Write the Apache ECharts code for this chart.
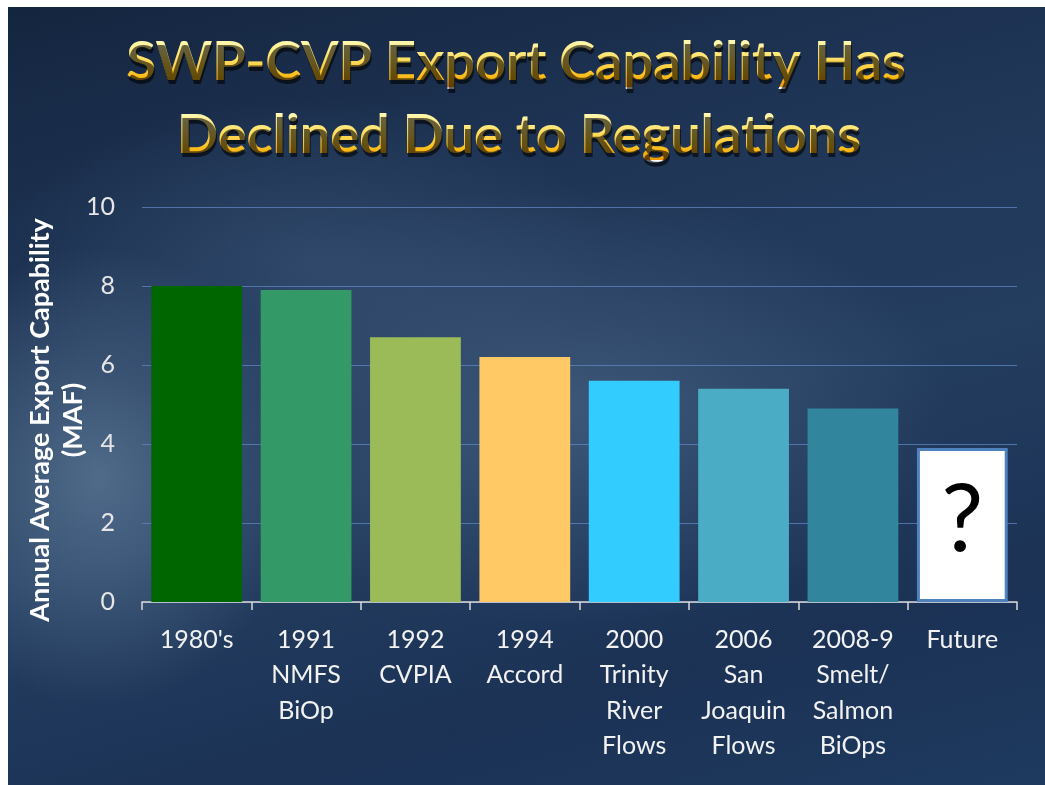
<!DOCTYPE html>
<html>
<head>
<meta charset="utf-8">
<script src="https://cdn.jsdelivr.net/npm/echarts@6/dist/echarts.min.js"></script>
<style>
  html, body { margin: 0; padding: 0; background: #fff; }
  #bg {
    position: absolute; left: 8px; top: 7px; width: 1037px; height: 778px;
    background:
      radial-gradient(ellipse 200px 230px at 90px 470px, rgba(110,138,168,0.6), rgba(110,138,168,0) 100%),
      radial-gradient(ellipse 380px 220px at 560px 400px, rgba(85,112,145,0.5), rgba(85,112,145,0) 100%),
      radial-gradient(ellipse 300px 160px at 300px 250px, rgba(70,98,132,0.4), rgba(70,98,132,0) 100%),
      linear-gradient(165deg, #14253f 0%, #1f3556 30%, #243e60 55%, #1b3255 80%, #1e3a5f 100%);
  }
  #chart { position: absolute; left: 0; top: 0; width: 1045px; height: 785px; }
</style>
</head>
<body>
<div id="bg"></div>
<div id="chart"></div>
<script>
var titleLines = ['SWP-CVP Export Capability Has', 'Declined Due to Regulations'];
var categories = ["1980's", '1991\nNMFS\nBiOp', '1992\nCVPIA', '1994\nAccord',
    '2000\nTrinity\nRiver\nFlows', '2006\nSan\nJoaquin\nFlows', '2008-9\nSmelt/\nSalmon\nBiOps', 'Future'];
var values = [8.0, 7.9, 6.7, 6.2, 5.6, 5.4, 4.9, 3.9];
var yMin = 0, yMax = 10, yStep = 2;
var yName = 'Annual Average Export Capability\n(MAF)';
var futureMark = '?';

var barColors = ['#006600', '#339966', '#9bbb59', '#ffc966', '#33ccff', '#4bacc6', '#31859c', '#ffffff'];

var chart = echarts.init(document.getElementById('chart'));

// title: white text, then gold gradient painted on top of it only, then shadow behind
var titleFont = 'bold 54px Lato';
var titleRows = [{x: 516, y: 63}, {x: 519, y: 136}];

function goldGradient() {
    return new echarts.graphic.LinearGradient(0, 0, 0, 1, [
        {offset: 0, color: '#fffbb8'},
        {offset: 0.4, color: '#ffe066'},
        {offset: 0.75, color: '#fbbf1e'},
        {offset: 1, color: '#f09a00'}
    ]);
}

var titleGraphic = [];
titleLines.forEach(function (t, i) {
    var r = titleRows[i];
    titleGraphic.push({
        type: 'text', z: 100, silent: true,
        style: {text: t, x: r.x, y: r.y, align: 'center', verticalAlign: 'middle', font: titleFont, fill: '#ffffff'}
    });
});
titleLines.forEach(function (t, i) {
    var r = titleRows[i];
    titleGraphic.push({
        type: 'rect', z: 101, silent: true,
        shape: {x: 100, y: r.y - 24, width: 850, height: 48},
        style: {fill: goldGradient(), blend: 'source-atop'}
    });
});
titleLines.forEach(function (t, i) {
    var r = titleRows[i];
    titleGraphic.push({
        type: 'text', z: 102, silent: true,
        style: {
            text: t, x: r.x + 1, y: r.y + 4, align: 'center', verticalAlign: 'middle', font: titleFont,
            fill: 'rgba(0,0,0,0.6)', shadowColor: 'rgba(0,0,0,0.9)', shadowBlur: 10,
            blend: 'destination-over'
        }
    });
});

var barData = values.map(function (v, i) {
    var item = {value: v, itemStyle: {color: barColors[i]}};
    if (categories[i] === 'Future') {
        item.itemStyle.borderColor = '#4f81bd';
        item.itemStyle.borderWidth = 3;
        item.label = {
            show: true,
            position: 'inside',
            formatter: futureMark,
            color: '#000',
            fontFamily: 'Lato',
            fontSize: 94,
            offset: [0, -4]
        };
    }
    return item;
});

var option = {
    backgroundColor: 'transparent',
    animation: false,
    graphic: titleGraphic,
    grid: {left: 142, right: 28, top: 207, bottom: 183},
    xAxis: {
        type: 'category',
        data: categories,
        axisLine: {lineStyle: {color: '#d9d9d9', width: 1.5}},
        axisTick: {show: true, length: 8, lineStyle: {color: '#d9d9d9', width: 1.5}},
        axisLabel: {
            color: '#f2f2f2',
            fontFamily: 'Lato',
            fontSize: 25,
            lineHeight: 35.5,
            margin: 20,
            interval: 0
        }
    },
    yAxis: {
        type: 'value',
        min: yMin,
        max: yMax,
        interval: yStep,
        name: yName,
        nameLocation: 'middle',
        nameGap: 52,
        nameMoveOverlap: false,
        nameTextStyle: {
            color: '#ffffff',
            fontFamily: 'Lato',
            fontWeight: 'bold',
            fontSize: 27,
            lineHeight: 33,
            padding: [0, 31, 0, 0]
        },
        axisLine: {show: false},
        axisTick: {show: false},
        axisLabel: {color: '#e6e6e6', fontFamily: 'Lato', fontSize: 25, margin: 27},
        splitLine: {lineStyle: {color: 'rgba(95,135,195,0.75)', width: 1}}
    },
    series: [{
        type: 'bar',
        data: barData,
        barCategoryGap: '17%'
    }]
};

chart.setOption(option);
</script>
</body>
</html>
